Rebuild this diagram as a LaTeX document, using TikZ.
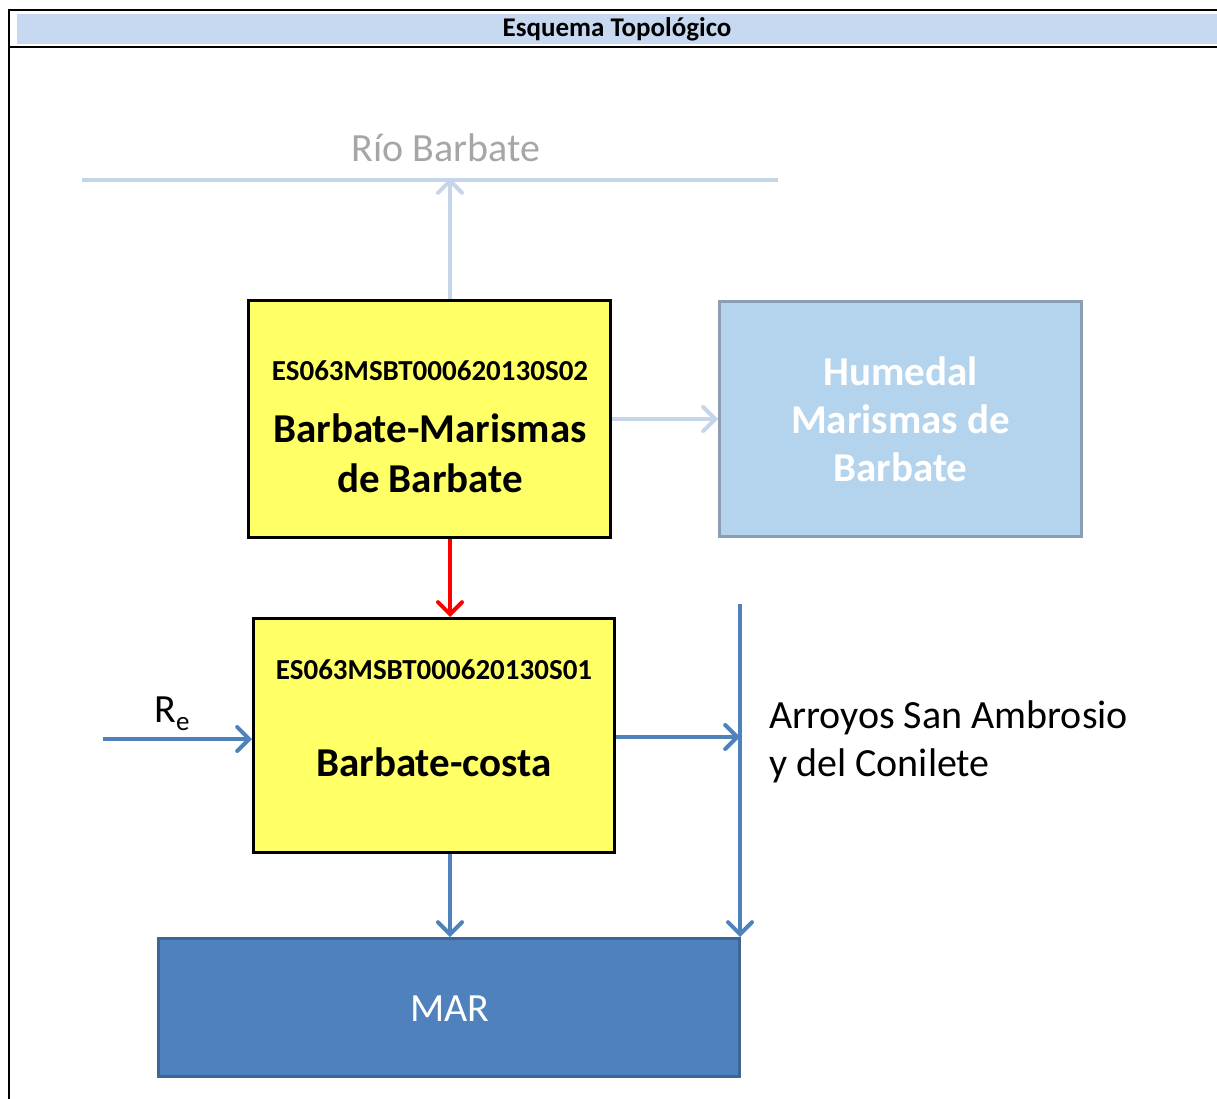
\documentclass[tikz,border=0pt]{standalone}
\usepackage{fontspec}
\setmainfont{Carlito}
\usetikzlibrary{arrows.meta}
\definecolor{bandblue}{HTML}{C6D9F1}
\definecolor{paleline}{HTML}{C5D5EA}
\definecolor{humfill}{HTML}{B4D3EC}
\definecolor{humedge}{HTML}{8C9EB4}
\definecolor{flowblue}{HTML}{4F81BD}
\definecolor{maredge}{HTML}{3C6696}
\definecolor{boxyellow}{HTML}{FFFF66}
\definecolor{rivergray}{HTML}{A6A6A6}
\begin{document}
\begin{tikzpicture}[x=1pt,y=-1pt,
  ybox/.style={draw=black,line width=3pt,fill=boxyellow,inner sep=0pt},
  hbox/.style={draw=humedge,line width=3pt,fill=humfill,inner sep=0pt},
  mbox/.style={draw=maredge,line width=3pt,fill=flowblue,inner sep=0pt},
  opentip/.style={-{Straight Barb[length=12pt,width=24pt,line cap=round]}},
  flowarrow/.style={opentip,draw=flowblue,line width=4pt},
  palearrow/.style={opentip,draw=paleline,line width=4pt},
  redarrow/.style={opentip,draw=red,line width=4pt},
  idtext/.style={font=\fontsize{29}{34}\selectfont\bfseries,anchor=base,inner sep=0pt},
  boxtitle/.style={font=\fontsize{41}{50}\selectfont\bfseries,anchor=base,inner sep=0pt},
  plaintext/.style={font=\fontsize{40}{48}\selectfont,anchor=base,inner sep=0pt}]
\useasboundingbox (0,0) rectangle (1217,1099);

% frame and title band
\fill[bandblue] (17,14) rectangle (1217,44);
\draw[line width=2pt] (9,1099) -- (9,10) -- (1217,10);
\draw[line width=2pt] (9,47.5) -- (1217,47.5);
\node[font=\fontsize{27}{30}\selectfont\bfseries,anchor=base,inner sep=0pt] (title) at (617,37) {Esquema Topológico};

% river
\coordinate (rl) at (82,180);
\coordinate (rr) at (778,180);
\draw[paleline,line width=4pt] (rl) -- (rr);
\node[plaintext,text=rivergray] (rio) at (446,162) {Río Barbate};

% boxes
\node[ybox,minimum width=362pt,minimum height=237pt] (sup2) at (429.5,419) {};
\node[hbox,minimum width=362pt,minimum height=235pt] (hum) at (900.5,419) {};
\node[ybox,minimum width=361pt,minimum height=234pt] (sup1) at (434,735.5) {};
\node[mbox,minimum width=581pt,minimum height=138pt] (mar) at (449,1007.5) {};

% box texts
\node[idtext] (c2) at (430,380) {ES063MSBT000620130S02};
\node[boxtitle] (n2a) at (430,442) {Barbate-Marismas};
\node[boxtitle] (n2b) at (430,492) {de Barbate};
\node[boxtitle,text=white] (h1) at (900.5,385) {Humedal};
\node[boxtitle,text=white] (h2) at (900.5,433) {Marismas de};
\node[boxtitle,text=white] (h3) at (900.5,481) {Barbate};
\node[idtext] (c1) at (434,679) {ES063MSBT000620130S01};
\node[boxtitle] (n1) at (434,776) {Barbate-costa};
\node[plaintext,text=white] (martxt) at (450,1021) {MAR};
\node[plaintext,anchor=base west] (arr1) at (769,728) {Arroyos San Ambrosio};
\node[plaintext,anchor=base west] (arr2) at (769,776) {y del Conilete};
\node[plaintext] (re) at (172,722) {R\raisebox{-0.22em}{\fontsize{27}{30}\selectfont e}};

% connectors
\coordinate (colx) at (450,0);
\coordinate (rein) at (103,739);
\coordinate (vtop) at (740,604);
\coordinate (vjoin) at (740,737);

\draw[palearrow] (sup2.north -| colx) -- ([yshift=2pt]colx |- rl);
\draw[palearrow] (sup2.east |- hum.west) -- (hum.west);
\draw[redarrow] (sup2.south -| colx) -- (sup1.north -| colx);
\draw[flowarrow] (rein) -- (sup1.west |- rein);
\draw[flowarrow] (sup1.east |- vjoin) -- (vjoin);
\draw[flowarrow] (vtop) -- (vtop |- mar.north);
\draw[flowarrow] (sup1.south -| colx) -- (mar.north -| colx);
\end{tikzpicture}
\end{document}
